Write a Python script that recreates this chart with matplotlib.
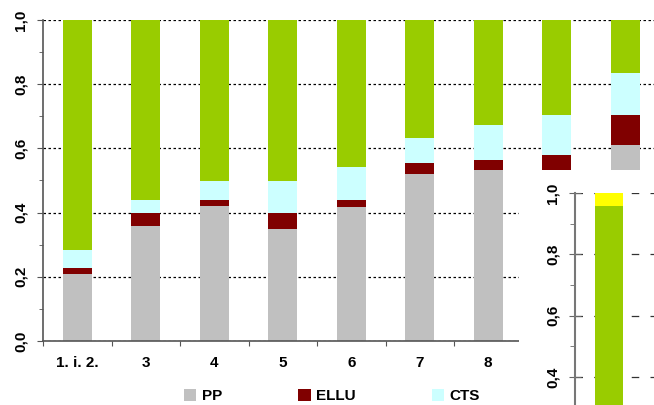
import numpy as np
import matplotlib
matplotlib.use("Agg")
import matplotlib.pyplot as plt
from matplotlib.patches import Rectangle
from matplotlib.ticker import FuncFormatter, MultipleLocator

plt.rcParams['font.family'] = ['Liberation Sans', 'DejaVu Sans']
plt.rcParams['font.weight'] = 'bold'

categories = ["1. i. 2.", "3", "4", "5", "6", "7", "8", "9", "10"]
pp = [0.210, 0.358, 0.420, 0.349, 0.417, 0.520, 0.533, 0.500, 0.611]
ellu = [0.018, 0.042, 0.019, 0.051, 0.022, 0.035, 0.031, 0.079, 0.093]
cts = [0.056, 0.039, 0.061, 0.100, 0.104, 0.077, 0.109, 0.125, 0.131]
series_names = ["PP", "ELLU", "CTS"]
inset_green = 0.957
inset_yellow = 0.043

C_PP = "#C0C0C0"
C_ELLU = "#800000"
C_CTS = "#CCFFFF"
C_GREEN = "#99CC00"
C_YELLOW = "#FFFF00"

pp = np.array(pp); ellu = np.array(ellu); cts = np.array(cts)
green = 1.0 - (pp + ellu + cts)

W, H = 654, 405
fig = plt.figure(figsize=(W / 100, H / 100), dpi=100)

ax = fig.add_axes([43 / W, (H - 341) / H, 616.5 / W, 321 / H])
x = np.arange(len(categories))
bw = 0.42
b1 = ax.bar(x, pp, bw, color=C_PP, label="PP", zorder=2)
b2 = ax.bar(x, ellu, bw, bottom=pp, color=C_ELLU, label="ELLU", zorder=2)
b3 = ax.bar(x, cts, bw, bottom=pp + ellu, color=C_CTS, label="CTS", zorder=2)
ax.bar(x, green, bw, bottom=pp + ellu + cts, color=C_GREEN, zorder=2)

ax.set_xlim(-0.5, len(categories) - 0.5)
ax.set_ylim(0, 1.0)
ax.yaxis.set_major_locator(MultipleLocator(0.2))
ax.yaxis.set_minor_locator(MultipleLocator(0.1))
fmt = FuncFormatter(lambda v, p: f"{v:.1f}".replace(".", ","))
ax.yaxis.set_major_formatter(fmt)
ax.grid(axis='y', which='major', linestyle=(0, (2, 2)), color='black', linewidth=0.9, zorder=0)

ax.set_xticks(np.arange(-0.5, len(categories), 1.0))
ax.set_xticklabels([])
ax.set_xticks(x, minor=True)
ax.set_xticklabels(categories, minor=True, fontsize=11, fontweight='bold')
# labels of the last two categories are hidden behind the inset in the original
for lab in ax.get_xticklabels(minor=True)[7:]:
    lab.set_visible(False)
ax.tick_params(axis='x', which='minor', length=0, pad=11)
ax.tick_params(axis='x', which='major', length=3.5, direction='out', color='#555555')
ax.tick_params(axis='y', which='major', length=4, direction='out', color='#555555', pad=7)
ax.tick_params(axis='y', which='minor', length=3, direction='out', color='#555555')
for lab in ax.get_yticklabels():
    lab.set_rotation(90)
    lab.set_va('center')
    lab.set_fontsize(11)
    lab.set_fontweight('bold')

for s in ['top', 'right']:
    ax.spines[s].set_visible(False)
for s in ['left', 'bottom']:
    ax.spines[s].set_color('#555555')
    ax.spines[s].set_linewidth(1.2)

# white cover for the inset area
fig.patches.append(Rectangle((519 / W, 0), (W - 519) / W, (H - 170) / H,
                             transform=fig.transFigure, facecolor='white',
                             edgecolor='none', zorder=1))

# inset
ax2 = fig.add_axes([575 / W, 0, 85 / W, 212 / H], zorder=2)
ax2.patch.set_alpha(0)
ax2.bar([0], [inset_green], 0.41, color=C_GREEN, zorder=2)
ax2.bar([0], [inset_yellow], 0.41, bottom=[inset_green], color=C_YELLOW, zorder=2)
ax2.set_xlim(-0.5, -0.5 + 85 / 68.5)
ax2.set_ylim(0.309, 1.0)
ax2.yaxis.set_major_locator(MultipleLocator(0.2))
ax2.yaxis.set_minor_locator(MultipleLocator(0.1))
ax2.yaxis.set_major_formatter(fmt)
ax2.grid(axis='y', which='major', linestyle=(0, (6, 9)), color='#333333', linewidth=0.9, zorder=0)
ax2.set_xticks([])
ax2.tick_params(axis='y', which='major', length=8, direction='inout', color='#666666', pad=7)
ax2.tick_params(axis='y', which='minor', length=3.5, direction='out', color='#666666')
for lab in ax2.get_yticklabels():
    lab.set_rotation(90)
    lab.set_va('center')
    lab.set_fontsize(11)
    lab.set_fontweight('bold')
for s in ['top', 'right', 'bottom']:
    ax2.spines[s].set_visible(False)
ax2.spines['left'].set_color('#777777')
ax2.spines['left'].set_linewidth(1.5)

fig.legend(handles=[b1, b2, b3], labels=series_names, loc='center',
           bbox_to_anchor=(332 / W, 9 / H), ncol=3, frameon=False,
           prop={'weight': 'bold', 'size': 11}, handlelength=0.8, handleheight=0.8,
           handletextpad=0.35, columnspacing=5.0, borderaxespad=0, borderpad=0)

fig.savefig("out.png", dpi=100)
